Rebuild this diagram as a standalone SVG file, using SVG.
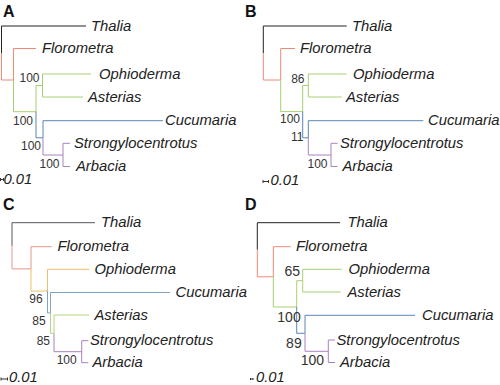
<svg xmlns="http://www.w3.org/2000/svg" width="500" height="385" viewBox="0 0 500 385">
<style>
text{font-family:"Liberation Sans",Arial,sans-serif;fill:#222}
.t{font-style:italic;font-size:14.8px}
.s{font-size:12px;fill:#333;text-anchor:end}
.sd{font-size:14px;fill:#333;text-anchor:end}
.p{font-weight:bold;font-size:16px;fill:#111}
path{fill:none;stroke-width:1}
.k{stroke:#222}
.r{stroke:#ee8a76}
.g{stroke:#a8d072}
.b{stroke:#5a86b4}
.u{stroke:#a882c0}
.o{stroke:#eebf68}
.kc{stroke:#555566}
.rc{stroke:#e8958a}
.bc{stroke:#7ea4c4}
.gc{stroke:#b4d684}
.sb{stroke:#333}
</style>
<rect width="500" height="385" fill="#fff"/>
<g id="connectors">
<!-- Panel A -->
<path class="k" d="M1.5,26 V53 M1.5,26 H86"/>
<path class="r" d="M1.5,53 V80 H13.5 M13.5,80 V48.5 H36"/>
<path class="g" d="M13.5,80 V111.7 H36 M36,111.7 V85.5 H42.5 M42.5,74 V97 M42.5,74 H91 M42.5,97 H83"/>
<path class="b" d="M36,111.7 V137.8 H43 M43,137.8 V120.7 H163"/>
<path class="u" d="M43,137.8 V155 H63 M63,143.3 V166.5 M63,143.3 H70 M63,166.5 H70"/>
<path class="sb" d="M0.5,179.5 H3.5 M0.5,178 V181 M3.5,178 V181"/>
<!-- Panel B -->
<path class="k" d="M263.3,26 V53 M263.3,26 H346.7"/>
<path class="r" d="M263.3,53 V80 H280.7 M280.7,80 V48.5 H295"/>
<path class="g" d="M280.7,80 V111.6 H302.7 M302.7,111.6 V85.5 H308.3 M308.3,74 V97 M308.3,74 H346.7 M308.3,97 H341.7"/>
<path class="b" d="M302.7,111.6 V137.8 H308.3 M308.3,137.8 V120.7 H423.3"/>
<path class="u" d="M308.3,137.8 V155 H331 M331,143.3 V166.5 M331,143.3 H337.5 M331,166.5 H337.5"/>
<path class="sb" d="M263,181.5 H268.5 M263,180 V183 M268.5,180 V183"/>
<!-- Panel C -->
<path class="kc" d="M12,222.7 V245.8 M12,222.7 H95"/>
<path class="rc" d="M12,245.8 V268.9 H31 M31,268.9 V246.7 H51.7"/>
<path class="o" d="M31,268.9 V291.1 H47.5 M47.5,291.1 V269.3 H89.3"/>
<path class="bc" d="M47.5,291.1 V312.9 H50.5 M50.5,312.9 V292.5 H170"/>
<path class="gc" d="M50.5,312.9 V333.3 H54 M54,333.3 V315 H89.3"/>
<path class="u" d="M54,333.3 V351.7 H81.7 M81.7,340.7 V362.7 M81.7,340.7 H88.3 M81.7,362.7 H88.3"/>
<path class="sb" d="M1,379 H7.5 M1,377.5 V380.5 M7.5,377.5 V380.5"/>
<!-- Panel D -->
<path class="k" d="M257.3,222.7 V249.7 M257.3,222.7 H340"/>
<path class="r" d="M257.3,249.7 V276.8 H273.3 M273.3,276.8 V246.7 H290.7"/>
<path class="g" d="M273.3,276.8 V307 H296.7 M296.7,307 V280.7 H302.7 M302.7,269.3 V292 M302.7,269.3 H341.7 M302.7,292 H340.7"/>
<path class="b" d="M296.7,307 V333.3 H305 M305,333.3 V315.3 H415"/>
<path class="u" d="M305,333.3 V351.3 H328.3 M328.3,340 V362.5 M328.3,340 H335 M328.3,362.5 H335"/>
<path class="sb" d="M250.5,379 H253 M250.5,378 V380 M253,378 V380"/>
</g>
<g id="panelA">
<text class="p" x="3" y="17">A</text>
<g id="A-Thalia"><text class="t" x="91" y="30.5">Thalia</text></g>
<g id="A-Florometra"><text class="t" x="42" y="53">Florometra</text></g>
<g id="A-Ophioderma"><text class="t" x="99" y="78.5">Ophioderma</text></g>
<g id="A-Asterias"><text class="t" x="88" y="101.5">Asterias</text></g>
<g id="A-Cucumaria"><text class="t" x="165" y="125.2">Cucumaria</text></g>
<g id="A-Strongylocentrotus"><text class="t" x="74" y="147.8">Strongylocentrotus</text></g>
<g id="A-Arbacia"><text class="t" x="76" y="171">Arbacia</text></g>
<text class="s" x="39.5" y="82">100</text>
<text class="s" x="33" y="125">100</text>
<text class="s" x="41" y="150">100</text>
<text class="s" x="59.5" y="168">100</text>
<text class="t" x="3.5" y="184">0.01</text>
</g>
<g id="panelB">
<text class="p" x="245" y="17">B</text>
<g id="B-Thalia"><text class="t" x="352" y="30.5">Thalia</text></g>
<g id="B-Florometra"><text class="t" x="300" y="53">Florometra</text></g>
<g id="B-Ophioderma"><text class="t" x="353" y="78.5">Ophioderma</text></g>
<g id="B-Asterias"><text class="t" x="346" y="101.5">Asterias</text></g>
<g id="B-Cucumaria"><text class="t" x="428" y="125.2">Cucumaria</text></g>
<g id="B-Strongylocentrotus"><text class="t" x="340" y="147.8">Strongylocentrotus</text></g>
<g id="B-Arbacia"><text class="t" x="342.5" y="171">Arbacia</text></g>
<text class="s" x="304.5" y="83">86</text>
<text class="s" x="300" y="123">100</text>
<text class="s" x="303.5" y="140.5">11</text>
<text class="s" x="327.5" y="168">100</text>
<text class="t" x="270.5" y="185">0.01</text>
</g>
<g id="panelC">
<text class="p" x="3" y="210">C</text>
<g id="C-Thalia"><text class="t" x="101" y="227.2">Thalia</text></g>
<g id="C-Florometra"><text class="t" x="57.5" y="251.2">Florometra</text></g>
<g id="C-Ophioderma"><text class="t" x="94.5" y="273.8">Ophioderma</text></g>
<g id="C-Cucumaria"><text class="t" x="175.5" y="297">Cucumaria</text></g>
<g id="C-Asterias"><text class="t" x="94.5" y="319.5">Asterias</text></g>
<g id="C-Strongylocentrotus"><text class="t" x="90" y="345.2">Strongylocentrotus</text></g>
<g id="C-Arbacia"><text class="t" x="92.5" y="367.2">Arbacia</text></g>
<text class="s" x="42.7" y="303">96</text>
<text class="s" x="45.7" y="324.5">85</text>
<text class="s" x="50" y="344.5">85</text>
<text class="s" x="76.7" y="364">100</text>
<text class="t" x="9" y="381.5">0.01</text>
</g>
<g id="panelD">
<text class="p" x="245" y="210">D</text>
<g id="D-Thalia"><text class="t" x="347.5" y="227.2">Thalia</text></g>
<g id="D-Florometra"><text class="t" x="296" y="251.2">Florometra</text></g>
<g id="D-Ophioderma"><text class="t" x="348.5" y="273.8">Ophioderma</text></g>
<g id="D-Asterias"><text class="t" x="347.5" y="296.5">Asterias</text></g>
<g id="D-Cucumaria"><text class="t" x="422" y="319.8">Cucumaria</text></g>
<g id="D-Strongylocentrotus"><text class="t" x="336.5" y="344.5">Strongylocentrotus</text></g>
<g id="D-Arbacia"><text class="t" x="340" y="367">Arbacia</text></g>
<text class="sd" x="300" y="276">65</text>
<text class="sd" x="300.7" y="322">100</text>
<text class="sd" x="301.7" y="348">89</text>
<text class="sd" x="324" y="365">100</text>
<text class="t" x="256" y="381.5">0.01</text>
</g>
</svg>
